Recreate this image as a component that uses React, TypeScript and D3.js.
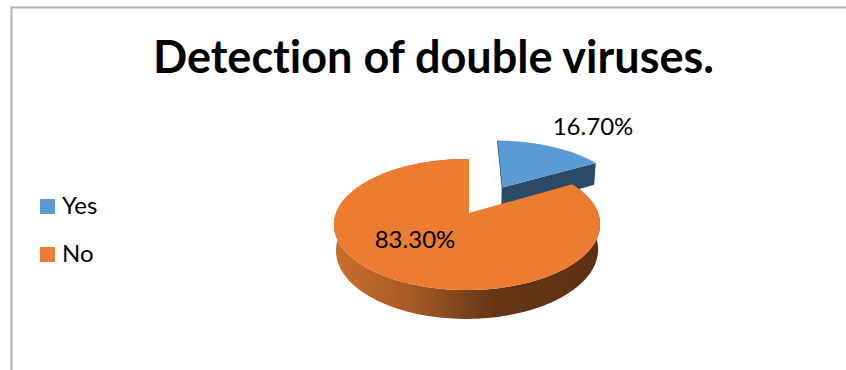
import React from "react";
import * as d3 from "d3";

const categories = ["Yes", "No"];
const shares = [16.7, 83.3];
const shareLabels = ["16.70%", "83.30%"];
const chartTitle = "Detection of double viruses.";

const WIDTH = 846;
const HEIGHT = 370;
const FONT = "Lato, Carlito, Calibri, sans-serif";

// Perspective disc: the hub sits at (hubX, hubY); the far rim is foreshortened by `tilt`,
// and `skew` makes the left side sit slightly closer to the viewer than the right.
const hubX = 469;
const hubY = 213;
const radiusX = 131;
const radiusY = 63.5;
const tilt = 0.1756;
const skew = 0.015;
const thickness = 25.4;
const floorDepth = 0.015;
const explodeYes = 0.5;
const explodeSideways = 0.025;

type Pt = [number, number];

function project(u: number, v: number, floor: boolean): Pt {
  const w = 1 - tilt * v + skew * u + (floor ? floorDepth : 0);
  return [hubX + (radiusX * u) / w, hubY + (radiusY * v + (floor ? thickness : 0)) / w];
}

const toPath = d3.line<Pt>().x((d) => d[0]).y((d) => d[1]);

function wedgeOffset(start: number, end: number, explode: number): Pt {
  const mid = (start + end) / 2;
  return [explode * Math.sin(mid) + (explode ? explodeSideways : 0), -explode * Math.cos(mid)];
}

function rim(start: number, end: number, off: Pt, floor: boolean): Pt[] {
  const n = Math.max(8, Math.ceil((end - start) * 40));
  return d3.range(n + 1).map((i) => {
    const a = start + ((end - start) * i) / n;
    return project(off[0] + Math.sin(a), off[1] - Math.cos(a), floor);
  });
}

const arcs = d3.pie<number>().sort(null).value((d) => d)(shares);
const colors = d3.scaleOrdinal<string, string>().domain(categories).range(["#5B9BD5", "#EB7C30"]);

function Wedge({ index }: { index: number }) {
  const { startAngle, endAngle } = arcs[index];
  const isYes = index === 0;
  const off = wedgeOffset(startAngle, endAngle, isYes ? explodeYes : 0);
  const hub = project(off[0], off[1], false);
  const hubFloor = project(off[0], off[1], true);
  const top = rim(startAngle, endAngle, off, false);
  const bottom = rim(startAngle, endAngle, off, true);
  const sideFill = "#2B4A69";
  return (
    <g>
      {isYes ? (
        <>
          {/* The cut face toward the viewer, plus a hairline along the far cut */}
          <path
            d={toPath([hub, top[top.length - 1], bottom[bottom.length - 1], hubFloor]) + "Z"}
            fill={sideFill}
          />
          <path d={toPath([top[0], hub, hubFloor])!} fill="none" stroke={sideFill} strokeWidth={1.4} />
        </>
      ) : (
        <path d={toPath([...top, ...bottom.slice().reverse()]) + "Z"} fill="url(#rimShade)" />
      )}
      <path d={toPath([hub, ...top]) + "Z"} fill={colors(categories[index])} />
    </g>
  );
}

export default function App() {
  return (
    <svg
      width={WIDTH}
      height={HEIGHT}
      viewBox={`0 0 ${WIDTH} ${HEIGHT}`}
      style={{ position: "fixed", left: 0, top: 0, background: "#fff" }}
    >
      <defs>
        <linearGradient id="rimShade" gradientUnits="userSpaceOnUse" x1={334} x2={600} y1={0} y2={0}>
          <stop offset="0" stopColor="#CB6F2D" />
          <stop offset="0.28" stopColor="#A65C25" />
          <stop offset="0.6" stopColor="#663615" />
          <stop offset="1" stopColor="#5E3112" />
        </linearGradient>
      </defs>

      <path d="M11.5,370V7.5H846" fill="none" stroke="#B0B0B0" strokeWidth={2} />

      <text
        x={433.5}
        y={73}
        textAnchor="middle"
        fontFamily={FONT}
        fontWeight={700}
        fontSize={45}
        fill="#000"
        style={{ fontVariantLigatures: "none" }}
      >
        {chartTitle}
      </text>

      <Wedge index={0} />
      <Wedge index={1} />

      <text x={593} y={135} textAnchor="middle" fontFamily={FONT} fontSize={24} fill="#000">
        {shareLabels[0]}
      </text>
      <text x={415} y={248} textAnchor="middle" fontFamily={FONT} fontSize={24} fill="#000">
        {shareLabels[1]}
      </text>

      {categories.map((c, i) => (
        <g key={c} transform={`translate(40,${199 + i * 48})`}>
          <rect width={15} height={15} fill={i === 0 ? "#5B9BD5" : "#ED7D31"} />
          <text x={22} y={15} fontFamily={FONT} fontSize={24} fill="#000">
            {c}
          </text>
        </g>
      ))}
    </svg>
  );
}
